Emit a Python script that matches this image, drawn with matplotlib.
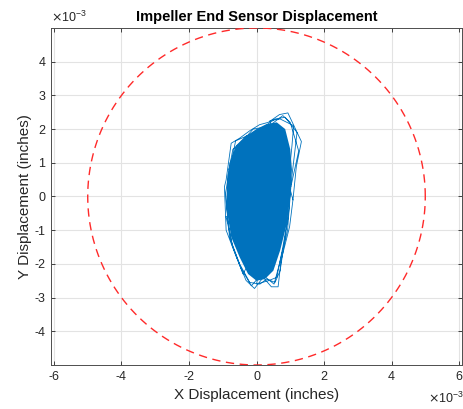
import numpy as np
import matplotlib
matplotlib.use("Agg")
import matplotlib.pyplot as plt

plt.rcParams['font.family'] = ['Liberation Sans', 'DejaVu Sans']

# Orbit data in units of 1e-3 inches
orbit_x = [1.08, 1.18, 1.33, 0.93, 0.68, 0.35, 0.09, -0.2, -0.5, -0.75, -0.9, -0.95, -0.9, -0.6, -0.31, -0.06, 0.2, 0.44, 0.64, 0.73, 0.98, 1.08,
           1.0, 1.12, 1.2, 0.85, 0.55, 0.2, -0.1, -0.45, -0.7, -0.85, -0.88, -0.8, -0.5, -0.2, 0.1, 0.3, 0.55, 0.7, 0.85, 0.95, 1.0,
           0.95, 1.05, 1.1, 0.7, 0.4, 0.6, -0.3, -0.6, -0.82, 0.2, -0.9, -0.7, -0.4, 0.3, 0.0, 0.35, 0.6, 0.78, 0.9, 0.95,
           1.02, 1.25, 1.0, 0.78, 0.45, -0.05, -0.62, -0.92, -0.85, -0.72, -0.45, -0.15, 0.15, 0.52, 0.68, 0.92, 1.02]
orbit_y = [-0.1, 0.89, 1.63, 2.48, 2.43, 2.2, 2.13, 1.95, 1.73, 1.58, 0.49, 0.29, -1.0, -1.79, -2.49, -2.73, -2.4, -2.68, -2.68, -1.89, -0.9, -0.1,
           0.2, 1.2, 1.9, 2.35, 2.3, 2.05, 2.0, 1.6, 1.4, 0.6, -0.3, -1.2, -2.0, -2.55, -2.6, -2.45, -2.55, -2.2, -1.2, -0.5, 0.2,
           0.5, 1.5, 2.1, 2.3, 2.25, 1.0, 1.8, 1.5, 0.8, 0.0, -0.6, -1.5, -2.3, -1.0, -2.6, -2.5, -2.4, -1.5, -0.8, 0.5,
           0.3, 1.35, 2.2, 2.4, 2.15, 1.9, 1.65, 0.1, -0.7, -1.45, -2.15, -2.65, -2.3, -2.6, -2.0, -1.0, 0.3]

# Dense core outline (solid region)
core_x = [0.0, 0.3, 0.6, 0.85, 1.0, 1.05, 1.0, 0.9, 0.7, 0.5, 0.25, 0.0, -0.25, -0.5, -0.75, -0.88, -0.88, -0.8, -0.6, -0.3]
core_y = [2.0, 2.15, 2.2, 2.0, 1.4, 0.8, 0.0, -0.8, -1.6, -2.2, -2.45, -2.5, -2.3, -1.8, -1.2, -0.4, 0.4, 1.0, 1.5, 1.8]

clearance_radius = 5.0

x_ticks = [-6, -4, -2, 0, 2, 4, 6]
y_ticks = [-4, -3, -2, -1, 0, 1, 2, 3, 4]

blue = '#0072BD'
axcol = '#262626'

fig = plt.figure(figsize=(4.63, 4.09), dpi=100)
ax = fig.add_axes([0.110, 0.1076, 0.888, 0.824])

ax.fill(core_x, core_y, color=blue, linewidth=0, zorder=2)
ax.plot(orbit_x, orbit_y, color=blue, linewidth=0.6, zorder=3)

t = np.linspace(0, 2 * np.pi, 400)
ax.plot(clearance_radius * np.cos(t), clearance_radius * np.sin(t), '--',
        color='#ff2a2a', linewidth=1.0, dashes=(6, 4), zorder=4)

ax.set_xlim(-6.09, 6.09)
ax.set_ylim(-5, 5)
ax.set_xticks(x_ticks)
ax.set_yticks(y_ticks)
ax.set_xticklabels([str(v) for v in x_ticks])
ax.set_yticklabels([str(v) for v in y_ticks])

ax.grid(True, color='#e3e3e3', linewidth=0.8, zorder=0)
ax.set_axisbelow(True)
ax.tick_params(direction='in', top=True, right=True, length=3, width=0.6,
               colors=axcol, labelsize=9, pad=4)
for s in ax.spines.values():
    s.set_color('#4d4d4d')
    s.set_linewidth(0.7)

ax.set_title('Impeller End Sensor Displacement', fontsize=10.5, fontweight='bold', color='black', pad=5)
ax.set_xlabel('X Displacement (inches)', fontsize=11, color=axcol, labelpad=4)
ax.set_ylabel('Y Displacement (inches)', fontsize=11, color=axcol, labelpad=2)

fig.text(51 / 463, 1 - 22 / 409, r'$\times\mathregular{10^{-3}}$', fontsize=9, color=axcol, ha='left', va='baseline')
fig.text(428 / 463, 1 - 403 / 409, r'$\times\mathregular{10^{-3}}$', fontsize=9, color=axcol, ha='left', va='baseline')

fig.savefig('out.png', dpi=100)
